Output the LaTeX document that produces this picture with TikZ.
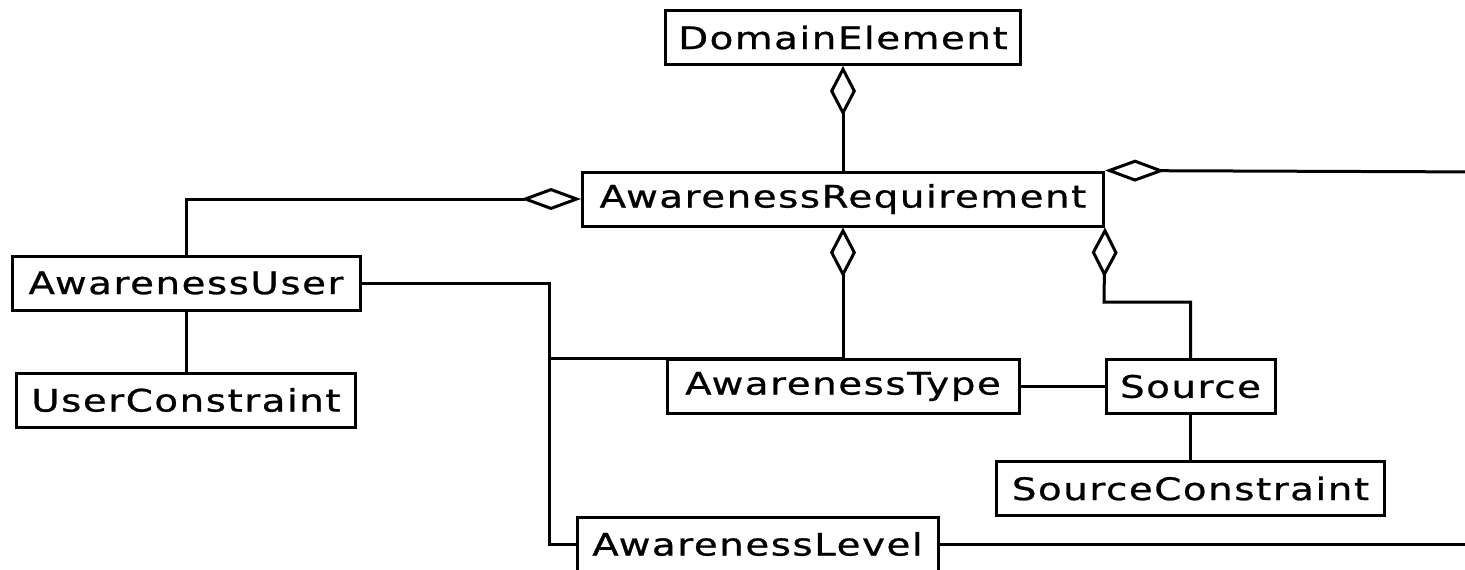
\documentclass[tikz,border=0pt]{standalone}
\usepackage{fontspec}
\newfontfamily\umlfont[FakeStretch=1.25,LetterSpace=5,FakeBold=0.8]{DejaVu Sans}
\usetikzlibrary{arrows.meta, positioning}
\tikzset{
  classbox/.style={
    rectangle, draw=black, line width=3pt, fill=white,
    minimum height=54pt, inner xsep=0pt, inner ysep=0pt,
    text centered, font=\umlfont\fontsize{31}{36}\selectfont
  },
  link/.style={
    line width=3pt, color=black
  },
  vagg/.style={
    link, -{Diamond[open, length=50pt, width=26pt]}
  },
  hagg/.style={
    link, -{Diamond[open, length=60pt, width=22pt]}
  }
}
\begin{document}
\begin{tikzpicture}[x=1pt, y=-1pt]
\useasboundingbox (0,0) rectangle (1465,570);
\fill[white] (0,0) rectangle (1465,570);

% classes
\node[classbox, minimum width=355pt] (dom)    at (843,37.5)   {DomainElement};
\node[classbox, minimum width=521pt] (req)    at (843,199)    {AwarenessRequirement};
\node[classbox, minimum width=348pt] (user)   at (186,283)    {AwarenessUser};
\node[classbox, minimum width=339pt] (ucons)  at (186,400)    {UserConstraint};
\node[classbox, minimum width=352pt] (type)   at (843,386.5)  {AwarenessType};
\node[classbox, minimum width=169pt] (src)    at (1190.5,386.5) {Source};
\node[classbox, minimum width=388pt] (scons)  at (1190.5,488.5) {SourceConstraint};
\node[classbox, minimum width=361pt] (level)  at (757.5,544)  {AwarenessLevel};

% bends and loose ends
\coordinate (ubus)  at (549,283);
\coordinate (sbend) at (1104,302);
\coordinate (rtop)  at (1490,172);
\coordinate (rbot)  at (1490,544);

% aggregations
\draw[vagg] (req.north) -- (dom.south);
\draw[vagg] (type.north) -- (req.south);
\draw[hagg] (user.north) |- (req.west);
\draw[vagg] (src.north) |- (sbend) -- (req.south east);
\draw[hagg] (rtop) -- (req.north east);

% associations
\draw[link] (user.south) -- (ucons.north);
\draw[link] (user.east) -- (ubus) |- (level.west);
\draw[link] (ubus |- type.north) -- (type.north);
\draw[link] (type.east) -- (src.west);
\draw[link] (src.south) -- (scons.north);
\draw[link] (level.east) -- (rbot);
\end{tikzpicture}
\end{document}
